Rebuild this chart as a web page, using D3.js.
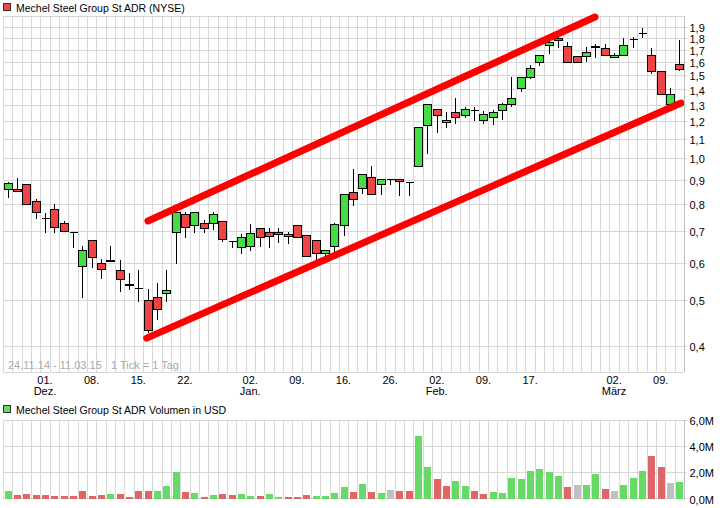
<!DOCTYPE html>
<html><head><meta charset="utf-8">
<script src="https://cdn.jsdelivr.net/npm/d3@7"></script>
<style>
html,body{margin:0;padding:0;background:#fff;}
svg{display:block;font-family:"Liberation Sans",Arial,sans-serif;}
</style></head><body>
<svg id="c" width="726" height="508"></svg>
<script>
// ---------- data ----------
const dates = [
 "2014-11-24","2014-11-25","2014-11-26","2014-11-28",
 "2014-12-01","2014-12-02","2014-12-03","2014-12-04","2014-12-05","2014-12-08","2014-12-09","2014-12-10","2014-12-11","2014-12-12",
 "2014-12-15","2014-12-16","2014-12-17","2014-12-18","2014-12-19","2014-12-22","2014-12-23","2014-12-24","2014-12-26","2014-12-29","2014-12-30","2014-12-31",
 "2015-01-02","2015-01-05","2015-01-06","2015-01-07","2015-01-08","2015-01-09","2015-01-12","2015-01-13","2015-01-14","2015-01-15","2015-01-16",
 "2015-01-20","2015-01-21","2015-01-22","2015-01-23","2015-01-26","2015-01-27","2015-01-28","2015-01-29","2015-01-30",
 "2015-02-02","2015-02-03","2015-02-04","2015-02-05","2015-02-06","2015-02-09","2015-02-10","2015-02-11","2015-02-12","2015-02-13",
 "2015-02-17","2015-02-18","2015-02-19","2015-02-20","2015-02-23","2015-02-24","2015-02-25","2015-02-26","2015-02-27",
 "2015-03-02","2015-03-03","2015-03-04","2015-03-05","2015-03-06","2015-03-09","2015-03-10","2015-03-11"];

const open = [.860,.859,.880,.811,.748,.779,.728,.698,.590,.669,
 .598,.606,.579,.541,.530,.499,.508,.517,.698,.760,
 .721,.728,.728,.737,.668,.649,.650,.712,.698,.696,
 .684,.721,.686,.669,.629,.651,.721,.847,.863,.911,
 .882,.902,.902,.891,.963,1.177,1.272,1.192,1.252,1.235,
 1.268,1.206,1.222,1.264,1.302,1.408,1.490,1.599,1.740,1.798,
 1.734,1.649,1.651,1.728,1.712,1.643,1.657,1.789,1.842,1.657,
 1.534,1.304,1.585];
const high = [.889,.908,.880,.819,.764,.800,.737,.698,.651,.669,
 .610,.650,.608,.570,.579,.529,.543,.579,.768,.768,
 .768,.740,.768,.737,.668,.689,.724,.712,.712,.710,
 .698,.721,.686,.669,.638,.728,.838,.947,.924,.963,
 .902,.902,.902,.891,1.163,1.302,1.272,1.254,1.341,1.283,
 1.283,1.262,1.266,1.308,1.490,1.486,1.578,1.657,1.821,1.826,
 1.768,1.649,1.720,1.748,1.748,1.671,1.798,1.812,1.888,1.712,
 1.534,1.408,1.783];
const low = [.829,.851,.798,.748,.698,.698,.700,.649,.508,.588,
 .558,.604,.523,.528,.498,.428,.455,.498,.598,.679,
 .698,.698,.709,.667,.649,.628,.638,.651,.649,.665,
 .660,.679,.620,.608,.618,.628,.686,.794,.843,.839,
 .838,.880,.835,.835,.963,1.028,1.139,1.163,1.190,1.225,
 1.206,1.190,1.182,1.210,1.291,1.389,1.478,1.578,1.671,1.720,
 1.603,1.603,1.611,1.643,1.657,1.640,1.657,1.720,1.807,1.519,
 1.369,1.293,1.540];
const close = [.887,.851,.798,.768,.748,.716,.700,.698,.638,.616,
 .581,.609,.553,.538,.530,.432,.478,.526,.768,.713,
 .768,.710,.760,.675,.666,.681,.693,.681,.684,.690,
 .689,.679,.620,.628,.638,.724,.838,.818,.924,.839,
 .902,.902,.893,.889,1.163,1.302,1.235,1.204,1.222,1.270,
 1.266,1.242,1.256,1.302,1.345,1.486,1.557,1.657,1.763,1.783,
 1.603,1.603,1.684,1.725,1.657,1.657,1.740,1.792,1.842,1.534,
 1.369,1.369,1.545];
// volume in million USD
const volume = [0.55,0.30,0.38,0.25,0.25,0.18,0.18,0.18,0.55,0.18,
 0.25,0.38,0.38,0.10,0.55,0.55,0.55,0.93,1.99,0.48,
 0.45,0.10,0.25,0.38,0.25,0.33,0.18,0.18,0.33,0.10,
 0.10,0.10,0.25,0.18,0.18,0.40,0.86,0.48,1.08,0.48,
 0.40,0.63,0.55,0.55,4.79,2.37,1.46,0.93,1.31,0.93,
 0.55,0.33,0.48,0.40,1.54,1.46,2.14,2.22,1.99,1.69,
 0.86,1.00,1.00,1.84,0.70,0.55,1.00,1.54,2.07,3.27,
 2.37,1.16,1.23];
// trend channel: [fractional day index, price]
const channelUpper = [[15.04, 0.736], [62.96, 1.995]];
const channelLower = [[14.90, 0.415], [72.18, 1.310]];

const priceTicks = [0.4,0.5,0.6,0.7,0.8,0.9,1.0,1.1,1.2,1.3,1.4,1.5,1.6,1.7,1.8,1.9];
const volumeTicks = [0,2,4,6];
const xTickDates = ["2014-12-01","2014-12-08","2014-12-15","2014-12-22","2015-01-02","2015-01-09","2015-01-16","2015-01-26","2015-02-02","2015-02-09","2015-02-17","2015-03-02","2015-03-09"];
const monthNames = ["Jan.","Feb.","März","Apr.","Mai","Juni","Juli","Aug.","Sep.","Okt.","Nov.","Dez."];
const titlePrice = "Mechel Steel Group St ADR (NYSE)";
const titleVolume = "Mechel Steel Group St ADR Volumen in USD";
const rangeText = "24.11.14 - 11.03.15   1 Tick = 1 Tag";

// ---------- layout ----------
const L = 3, R = 684, PT = 16, PB = 372, VT = 420, VB = 499;
const GREEN = "#44dd44", RED = "#ee4444";
const VGREEN = "#66d966", VRED = "#dd6666", VGRAY = "#c0c0c0";
const GRID = "#d8d8d8";

const svg = d3.select("#c");
const loc = d3.formatLocale({decimal: ",", thousands: ".", grouping: [3], currency: ["", "€"]});
const f1 = loc.format(".1f");

const x = d3.scaleBand().domain(dates).range([L, R]);
const step = x.step();
const xi = d3.scaleLinear().domain([-0.5, dates.length - 0.5]).range([L, R]);
const cx = d => Math.round(x(d) + step / 2);
const y = d3.scaleLog().domain([0.3517, 2.005]).range([PB, PT]);
const yv = d3.scaleLinear().domain([0, 6]).range([VB - 0.5, VT]);
const px = v => Math.round(v) + 0.5;

// ---------- legends ----------
svg.append("rect").attr("x", 3.5).attr("y", 3.5).attr("width", 7).attr("height", 7)
  .attr("fill", RED).attr("stroke", "#333");
svg.append("text").attr("x", 16).attr("y", 11.5).attr("font-size", 10.5).text(titlePrice);

// ---------- price grid ----------
const gp = svg.append("g").attr("shape-rendering", "crispEdges");
const vLines = dates.map(d => x(d)).concat([R]);
gp.selectAll("line.v").data(vLines).join("line")
  .attr("x1", d => px(d)).attr("x2", d => px(d)).attr("y1", PT).attr("y2", PB)
  .attr("stroke", GRID);
gp.selectAll("line.h").data(priceTicks.concat([])).join("line").attr("class","h")
  .attr("x1", L).attr("x2", R).attr("y1", d => px(y(d))).attr("y2", d => px(y(d)))
  .attr("stroke", GRID);
gp.append("line").attr("x1", L).attr("x2", R).attr("y1", px(PT)).attr("y2", px(PT)).attr("stroke", GRID);
gp.append("line").attr("x1", L).attr("x2", R).attr("y1", px(PB)).attr("y2", px(PB)).attr("stroke", GRID);

svg.append("text").attr("x", 8).attr("y", 369).attr("font-size", 11).attr("fill", "#a8a8a8")
  .style("white-space", "pre").text(rangeText);

// ---------- candles ----------
const gc = svg.append("g").attr("shape-rendering", "crispEdges");
dates.forEach((d, i) => {
  const c = cx(d);
  const o = open[i], cl = close[i];
  gc.append("line").attr("x1", c + 0.5).attr("x2", c + 0.5)
    .attr("y1", Math.round(y(high[i]))).attr("y2", Math.round(y(low[i])) + 1)
    .attr("stroke", "#000");
  const top = Math.round(y(Math.max(o, cl))), bot = Math.round(y(Math.min(o, cl)));
  if (bot - top < 1) {
    gc.append("line").attr("x1", c - 3.5).attr("x2", c + 4.5).attr("y1", top + 0.5).attr("y2", top + 0.5)
      .attr("stroke", "#000");
  } else {
    gc.append("rect").attr("x", c - 3.5).attr("y", top + 0.5).attr("width", 8).attr("height", bot - top)
      .attr("fill", cl > o ? GREEN : RED).attr("stroke", "#000");
  }
});

// ---------- channel ----------
const chLine = d3.line().x(p => xi(p[0])).y(p => y(p[1]));
[channelUpper, channelLower].forEach(ch => {
  svg.append("path").attr("d", chLine(ch)).attr("fill", "none").attr("stroke", "#ff0000")
    .attr("stroke-width", 7).attr("stroke-linecap", "round");
});

// ---------- price axis ----------
const ay = svg.append("g").attr("transform", `translate(${R + 0.5},0)`)
  .call(d3.axisRight(y).tickValues(priceTicks).tickFormat(f1).tickSize(2).tickSizeOuter(0).tickPadding(3));
ay.select(".domain").attr("stroke", "#c0c0c0").attr("d", `M0,${PT}V${PB}`);
ay.selectAll(".tick line").attr("stroke", "#c0c0c0");
ay.selectAll("text").attr("font-size", 11).attr("font-family", null).attr("dy", "0.42em").attr("fill", "#000");

// ---------- x axis ----------
const ax = svg.append("g").attr("transform", `translate(0,${PB})`)
  .call(d3.axisBottom(x).tickValues(xTickDates).tickSize(0).tickPadding(4).tickFormat(() => ""));
ax.select(".domain").remove();
ax.selectAll(".tick text").attr("font-size", 11).attr("font-family", null).attr("fill", "#000")
  .each(function(d, k) {
    const t = d3.select(this);
    const [yy, mm, dd] = d.split("-");
    t.append("tspan").attr("x", 0).text(dd + ".");
    const prev = k > 0 ? xTickDates[k - 1].split("-")[1] : null;
    if (mm !== prev) t.append("tspan").attr("x", 0).attr("dy", "1.05em").text(monthNames[+mm - 1]);
  });

// ---------- volume ----------
svg.append("rect").attr("x", 3.5).attr("y", 405.5).attr("width", 7).attr("height", 7)
  .attr("fill", VGREEN).attr("stroke", "#333");
svg.append("text").attr("x", 16).attr("y", 413.5).attr("font-size", 10.5).text(titleVolume);

const gv = svg.append("g").attr("shape-rendering", "crispEdges");
gv.selectAll("line.v").data(vLines).join("line").attr("class","v")
  .attr("x1", d => px(d)).attr("x2", d => px(d)).attr("y1", VT).attr("y2", VB)
  .attr("stroke", GRID);
gv.selectAll("line.h").data(volumeTicks).join("line").attr("class","h")
  .attr("x1", L).attr("x2", R).attr("y1", d => Math.floor(yv(d)) + 0.5).attr("y2", d => Math.floor(yv(d)) + 0.5)
  .attr("stroke", GRID);
gv.selectAll("rect").data(dates).join("rect")
  .attr("x", d => cx(d) - 3).attr("width", 7)
  .attr("y", (d, i) => Math.round(yv(volume[i])))
  .attr("height", (d, i) => Math.round(yv(0)) - Math.round(yv(volume[i])))
  .attr("fill", (d, i) => i === 0 ? VGREEN : close[i] > close[i - 1] ? VGREEN : close[i] < close[i - 1] ? VRED : VGRAY);

const av = svg.append("g").attr("transform", `translate(${R + 0.5},0)`)
  .call(d3.axisRight(yv).tickValues(volumeTicks).tickFormat(v => f1(v) + "M").tickSize(2).tickSizeOuter(0).tickPadding(3));
av.select(".domain").attr("stroke", "#c0c0c0").attr("d", `M0,${VT}V${VB}`);
av.selectAll(".tick line").attr("stroke", "#c0c0c0");
av.selectAll("text").attr("font-size", 11).attr("font-family", null).attr("dy", "0.42em").attr("fill", "#000");
</script>
</body></html>
